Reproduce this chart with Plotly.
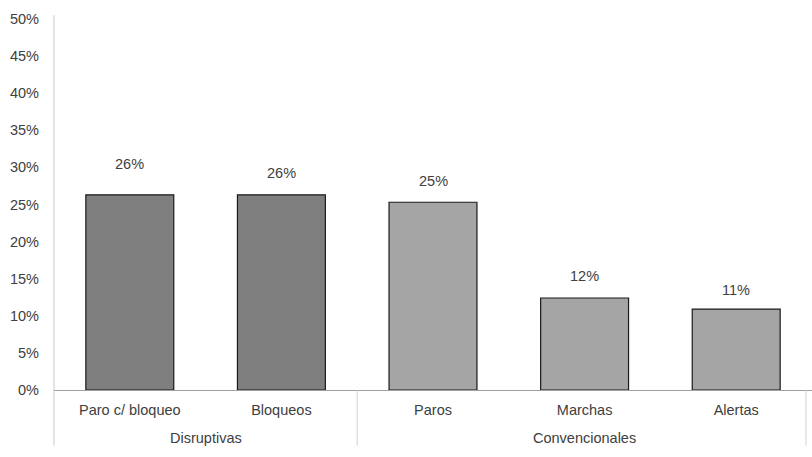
import plotly.graph_objects as go

categories = ["Paro c/ bloqueo", "Bloqueos", "Paros", "Marchas", "Alertas"]
values = [0.263, 0.263, 0.253, 0.124, 0.109]
labels = ["26%", "26%", "25%", "12%", "11%"]
groups = ["Disruptivas", "Convencionales"]
group_sizes = [2, 3]
colors = ["#7f7f7f", "#7f7f7f", "#a5a5a5", "#a5a5a5", "#a5a5a5"]
ytick_vals = [i * 0.05 for i in range(11)]
ytick_text = [f"{i*5}%" for i in range(11)]
label_shift = [21, 12, 11, 12, 9]

xs = list(range(len(categories)))
font = dict(family="Liberation Sans, Arial, sans-serif", size=14.5, color="#404040")

fig = go.Figure()
fig.add_trace(go.Bar(
    x=xs, y=values, width=0.58,
    marker=dict(color=colors, line=dict(color="#1a1a1a", width=1.2)),
    hoverinfo="skip",
))

annotations = []
for x, v, t, s in zip(xs, values, labels, label_shift):
    annotations.append(dict(x=x, y=v, text=t, showarrow=False, xref="x", yref="y",
                            yanchor="bottom", yshift=s, font=font))

# group labels and dividers
shapes = []
start = 0
boundaries = [-0.5]
for g, n in zip(groups, group_sizes):
    center = start + (n - 1) / 2
    annotations.append(dict(x=center, y=-0.13, xref="x", yref="paper", text=g,
                            showarrow=False, font=font, yanchor="middle"))
    start += n
    boundaries.append(start - 0.5)
boundaries[-1] = boundaries[-1] - 0.04
for b in boundaries[1:]:
    shapes.append(dict(type="line", xref="x", yref="paper", x0=b, x1=b, y0=0, y1=-0.15,
                       line=dict(color="#d0d0d0", width=1)))
# left axis line (extends below baseline)
shapes.append(dict(type="line", xref="paper", yref="paper", x0=0, x1=0, y0=1.01, y1=-0.15,
                   line=dict(color="#c8c8c8", width=1)))

fig.update_layout(
    width=812, height=457,
    margin=dict(l=54, r=0, t=19, b=67),
    paper_bgcolor="white", plot_bgcolor="white",
    showlegend=False,
    font=font,
    bargap=0.42,
    xaxis=dict(range=[-0.5, 4.5], tickvals=xs, ticktext=categories, showgrid=False,
               showline=True, linecolor="#a0a0a0", linewidth=1, ticks="", zeroline=False,
               ticklabelstandoff=7, tickfont=font, fixedrange=True),
    yaxis=dict(range=[0, 0.5], tickvals=ytick_vals, ticktext=ytick_text, showgrid=False,
               showline=False, zeroline=False, ticks="", ticklabelstandoff=14,
               tickfont=font, fixedrange=True),
    annotations=annotations,
    shapes=shapes,
)

fig.write_html("out.html")
